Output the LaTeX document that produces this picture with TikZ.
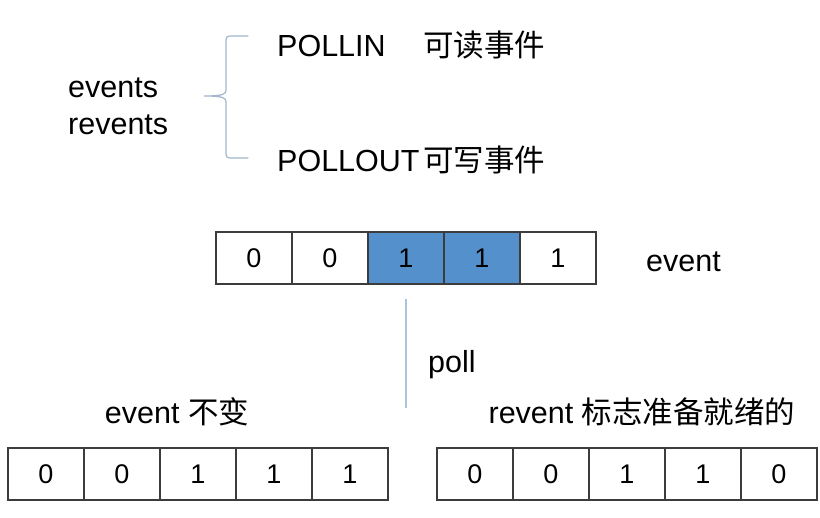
\documentclass[tikz,border=0pt]{standalone}
\usepackage{fontspec}
\setmainfont{Liberation Sans}
\newfontfamily\cjk{Noto Sans CJK SC}

\definecolor{cellblue}{RGB}{84,144,204}
\definecolor{braceblue}{RGB}{160,182,205}
\definecolor{pollblue}{RGB}{170,196,222}
\definecolor{celldraw}{RGB}{60,60,60}

\begin{document}
\begin{tikzpicture}[
  x=1pt, y=-1pt,
  lbl/.style={inner sep=0pt, font=\fontsize{30.5}{34}\selectfont},
  cell/.style={draw=celldraw, line width=1.1pt, minimum width=76pt,
               minimum height=52pt, inner sep=0pt,
               font=\fontsize{27}{32}\selectfont},
  hcell/.style={cell, fill=cellblue},
  bracestyle/.style={draw=braceblue, line width=1.2pt, line cap=round},
  pollline/.style={draw=pollblue, line width=1.2pt}
]
\useasboundingbox (0,0) rectangle (820,518);

%--- Flag names ---
\node[lbl, anchor=west] (events)  at (68, 88)  {events};
\node[lbl, anchor=west] (revents) at (68,125)  {revents};

% brace drawn by hand, square-ish like the original
\coordinate (bracetop) at (248, 36);
\coordinate (bracetip) at (204, 96);
\coordinate (bracebot) at (248,158);
\draw[bracestyle] (bracetop) -- (231,36) .. controls (227,36) and (226,37) .. (226,41)
  -- (226,90) .. controls (226,94) and (224,96) .. (bracetip)
  .. controls (224,96) and (226,98) .. (226,102)
  -- (226,153) .. controls (226,157) and (227,158) .. (231,158) -- (bracebot);

\node[lbl, anchor=west] (pollin)  at (277, 45)
  {\makebox[146pt][l]{POLLIN}{\cjk 可读事件}};
\node[lbl, anchor=west] (pollout) at (277,160)
  {\makebox[146pt][l]{POLLOUT}{\cjk 可写事件}};

%--- Requested events ---
\foreach \v/\s [count=\i] in {0/cell,0/cell,1/hcell,1/hcell,1/cell}
  \node[\s] (ev\i) at ({254+76*(\i-1)},258) {\v};
\node[lbl, anchor=west] (evlbl) at (646,262) {event};

%--- poll call ---
\coordinate (pollend) at (406,408);
\draw[pollline, shorten <=14pt] (ev3.south) -- (pollend);
\node[lbl, anchor=west] (polllbl) at (428,365) {poll};

%--- Result after poll ---
\node[lbl] (unlbl) at (177,412) {event {\cjk 不变}};
\node[lbl] (rvlbl) at (642,412) {revent {\cjk 标志准备就绪的}};

\foreach \v [count=\i] in {0,0,1,1,1}
  \node[cell] (un\i) at ({46+76*(\i-1)},474) {\v};
\foreach \v [count=\i] in {0,0,1,1,0}
  \node[cell] (rv\i) at ({475+76*(\i-1)},474) {\v};

\end{tikzpicture}
\end{document}
